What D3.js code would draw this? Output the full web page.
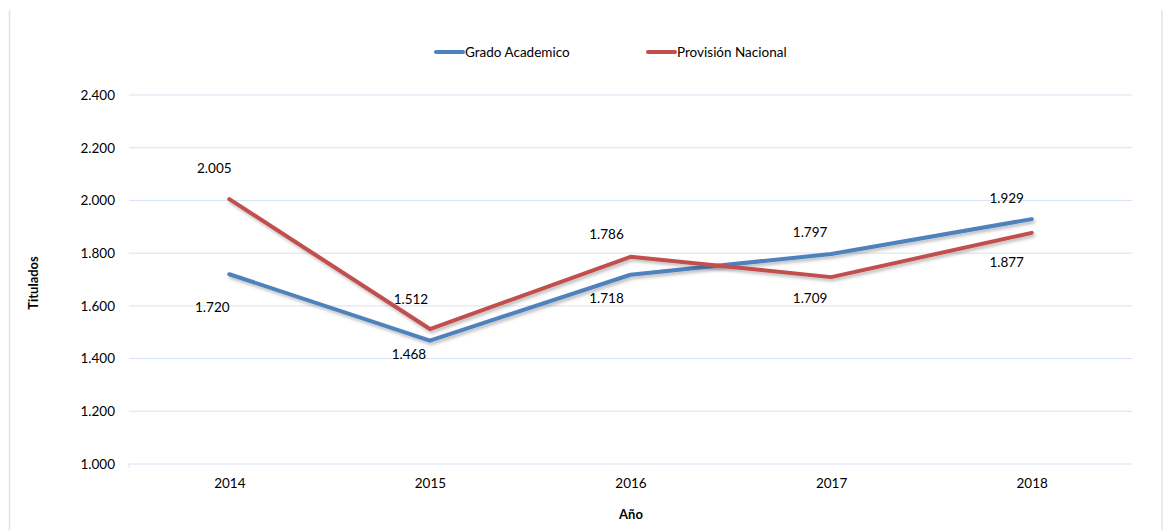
<!DOCTYPE html>
<html>
<head>
<meta charset="utf-8">
<script src="https://cdn.jsdelivr.net/npm/d3@7"></script>
<style>
  body { margin: 0; background: #fff; }
  svg { font-family: Lato, "Open Sans", sans-serif; }
</style>
</head>
<body>
<div id="chart"></div>
<script>
// data
const years = ["2014", "2015", "2016", "2017", "2018"];
const gradoAcademico = [1720, 1468, 1718, 1797, 1929];
const provisionNacional = [2005, 1512, 1786, 1709, 1877];
const yTicks = [1000, 1200, 1400, 1600, 1800, 2000, 2200, 2400];
const seriesNames = ["Grado Academico", "Provisión Nacional"];

const W = 1166, H = 530;
const margin = { top: 95, right: 34, bottom: 66, left: 129 };
const width = W - margin.left - margin.right,
      height = H - margin.top - margin.bottom;

const colors = ["#4F81BD", "#C0504D"];

// Spanish number format: 2.400
const es = d3.formatLocale({ decimal: ",", thousands: ".", grouping: [3], currency: ["", "€"] });
const fmt = es.format(",.0f");

const svg = d3.select("#chart").append("svg")
    .attr("width", W)
    .attr("height", H);

// chart frame (only side borders visible)
svg.append("line").attr("x1", 9.5).attr("x2", 9.5).attr("y1", 10).attr("y2", H)
    .attr("stroke", "#dbe4f0").attr("stroke-width", 1.5);
svg.append("line").attr("x1", 1162).attr("x2", 1162).attr("y1", 10).attr("y2", H)
    .attr("stroke", "#dbe4f0").attr("stroke-width", 1.5);

const defs = svg.append("defs");
const filter = defs.append("filter").attr("id", "shadow")
    .attr("x", "-5%").attr("y", "-20%").attr("width", "110%").attr("height", "140%");
filter.append("feDropShadow").attr("dx", 1.5).attr("dy", 2.5).attr("stdDeviation", 1.5)
    .attr("flood-color", "#000").attr("flood-opacity", 0.25);

const g = svg.append("g").attr("transform", `translate(${margin.left},${margin.top})`);

const x = d3.scalePoint().domain(years).range([0, width]).padding(0.5);
const y = d3.scaleLinear().domain([1000, 2400]).range([height, 0]);

// gridlines
g.append("g")
    .selectAll("line")
    .data(yTicks)
    .enter().append("line")
    .attr("x1", 0).attr("x2", width)
    .attr("y1", d => y(d)).attr("y2", d => y(d))
    .attr("stroke", "#d6e3f3").attr("stroke-width", 1);

// y axis
const yAxis = g.append("g")
    .call(d3.axisLeft(y).tickValues(yTicks).tickFormat(fmt).tickSize(0).tickPadding(14));
yAxis.select(".domain").remove();
yAxis.selectAll("text").attr("font-size", 13.5).attr("fill", "#000")
    .attr("font-family", "Lato, 'Open Sans', sans-serif");

// x axis
const xAxis = g.append("g")
    .attr("transform", `translate(0,${height})`)
    .call(d3.axisBottom(x).tickSize(0).tickPadding(14));
xAxis.select(".domain").remove();
xAxis.selectAll("text").attr("font-size", 13.5).attr("fill", "#000")
    .attr("font-family", "Lato, 'Open Sans', sans-serif");

g.append("line").attr("x1", 0).attr("x2", 0).attr("y1", height).attr("y2", height + 4)
    .attr("stroke", "#d6e3f3");

// lines
const line = d3.line().x((d, i) => x(years[i])).y(d => y(d));
[gradoAcademico, provisionNacional].forEach((vals, si) => {
    g.append("path")
        .datum(vals)
        .attr("fill", "none")
        .attr("stroke", colors[si])
        .attr("stroke-width", 4)
        .attr("stroke-linejoin", "round")
        .attr("stroke-linecap", "round")
        .attr("filter", "url(#shadow)")
        .attr("d", line);
});

// data label offsets from each point (label centre), as placed in the original
const gradoOff = { dx: [-17, -21, -24, -21, -25], dy: [33, 14, 24, -22, -21] };
const provOff = { dx: [-15, -19, -24, -21, -25], dy: [-31, -30, -23, 21, 29] };
function addLabels(vals, off) {
    g.append("g").selectAll("text")
        .data(vals)
        .enter().append("text")
        .attr("x", (d, i) => x(years[i]) + off.dx[i])
        .attr("y", (d, i) => y(d) + off.dy[i])
        .attr("dy", "0.35em")
        .attr("text-anchor", "middle")
        .attr("font-size", 13.5)
        .attr("fill", "#000")
        .text(d => fmt(d));
}
addLabels(gradoAcademico, gradoOff);
addLabels(provisionNacional, provOff);

// axis titles
svg.append("text")
    .attr("x", 631).attr("y", 519)
    .attr("text-anchor", "middle")
    .attr("font-size", 13).attr("font-weight", "bold")
    .text("Año");
svg.append("text")
    .attr("transform", "translate(38,283) rotate(-90)")
    .attr("text-anchor", "middle")
    .attr("font-size", 13).attr("font-weight", "bold")
    .text("Titulados");

// legend
const legendX = [434, 646];
seriesNames.forEach((name, i) => {
    const lg = svg.append("g").attr("transform", `translate(${legendX[i]},52)`);
    lg.append("line").attr("x1", 2).attr("x2", 29).attr("y1", 0).attr("y2", 0)
        .attr("stroke", colors[i]).attr("stroke-width", 4).attr("stroke-linecap", "round");
    lg.append("text").attr("x", 31).attr("y", 4.5)
        .attr("font-size", 13.5).attr("fill", "#000")
        .text(name);
});
</script>
</body>
</html>
